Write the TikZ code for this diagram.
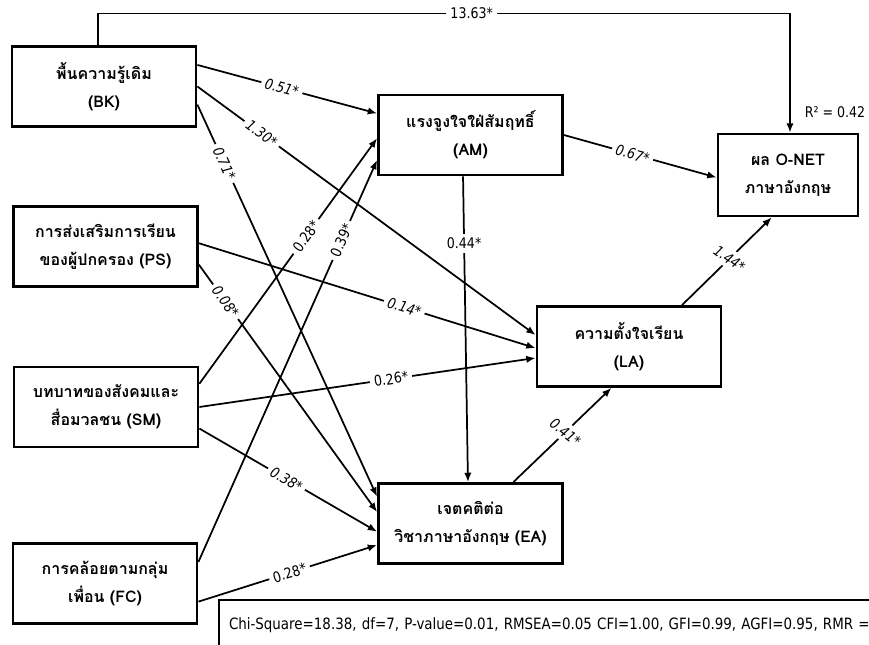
\documentclass[tikz,border=0pt]{standalone}
\usepackage{fontspec}
\setmainfont[FakeStretch=0.86]{DejaVu Sans}
\newfontfamily\thaifont[Script=Thai]{Loma}
\usetikzlibrary{arrows.meta}

\tikzset{
  box/.style={draw, line width=2.1pt, minimum width=138pt, minimum height=60pt,
    inner sep=2pt, align=center, font=\thaifont\bfseries\fontsize{12}{21}\selectfont},
  link/.style={line width=1.3pt, -{Latex[length=7pt,width=5.5pt]}},
  coef/.style={fill=white, inner sep=3pt, font=\fontsize{11}{13}\selectfont},
  icoef/.style={coef, font=\itshape\fontsize{11}{13}\selectfont},
  fitbox/.style={draw, line width=1.5pt, anchor=north west, inner xsep=7.5pt, inner ysep=0pt,
    text height=22.5pt, text depth=20pt, text width=700pt, align=left,
    font=\fontsize{11.7}{13}\selectfont},
}

\begin{document}
\begin{tikzpicture}[x=0.75pt,y=-0.75pt]
			\useasboundingbox[fill=white] (0,0) rectangle (869,645);
			% exogenous
			\node[box] (bk) at (104,86.5) {พื้นความรู้เดิม\\(BK)};
			\node[box] (ps) at (105.5,246.5) {การส่งเสริมการเรียน\\ของผู้ปกครอง (PS)};
			\node[box] (sm) at (106,407) {บทบาทของสังคมและ\\สื่อมวลชน (SM)};
			\node[box] (fc) at (105,583.5) {การคล้อยตามกลุ่ม\\เพื่อน (FC)};
			% endogenous
			\node[box] (am) at (470.5,135) {แรงจูงใจใฝ่สัมฤทธิ์\\(AM)};
			\node[box] (la) at (629,346.5) {ความตั้งใจเรียน\\(LA)};
			\node[box] (ea) at (470.5,523.5) {เจตคติต่อ\\วิชาภาษาอังกฤษ (EA)};
			\node[box, minimum width=105pt, minimum height=61.5pt] (onet) at (788,175) {ผล O-NET\\ภาษาอังกฤษ};
			\node[font=\fontsize{11}{13}\selectfont] (rsq) at (835,112) {R² = 0.42};
			% paths
			\draw[link] ([xshift=-4.5pt]bk.north) -- ++(0,-31.5) -| node[coef, pos=0.27] {13.63*} ([xshift=1.5pt]onet.north);
			\path[link] (bk.13) edge node[icoef, sloped, pos=0.47] {0.51*} (am.167)
			(bk.0) edge node[icoef, sloped, pos=0.19] {1.30*} (la.173)
			(bk.349) edge node[icoef, sloped, pos=0.15] {0.71*} (ea.164);
			\path[link] (ps.2) edge node[icoef, sloped, pos=0.61] {0.14*} (la.181)
			(ps.349) edge node[icoef, sloped, pos=0.15] {0.08*} (ea.173);
			\path[link] (sm.14) edge node[coef, sloped, pos=0.6] {0.28*} (am.182)
			(sm.0) edge node[coef, sloped, pos=0.57] {0.26*} (la.187)
			(sm.347) edge node[icoef, sloped, pos=0.49] {0.38*} (ea.185);
			\path[link] (fc.13) edge node[coef, sloped, pos=0.8] {0.39*} (am.195)
			(fc.349) edge node[coef, sloped, pos=0.51] {0.28*} (ea.193);
			\draw[link] ([xshift=-5.6pt]am.south) -- node[coef, pos=0.22] {0.44*} ([xshift=-1.9pt]ea.north);
			\draw[link] (am.east) -- node[icoef, sloped, pos=0.45] {0.67*} (onet.182);
			\draw[link] (la.38) -- node[icoef, rotate=-35, pos=0.53] {1.44*} (onet.249);
			\draw[link] (ea.44) -- node[icoef, rotate=-38, pos=0.53] {0.41*} (la.247);
			% fit indices
			\node[fitbox] (fit) at (218,599) {Chi-Square=18.38, df=7, P-value=0.01, RMSEA=0.05 CFI=1.00, GFI=0.99, AGFI=0.95, RMR =};
		\end{tikzpicture}
\end{document}
